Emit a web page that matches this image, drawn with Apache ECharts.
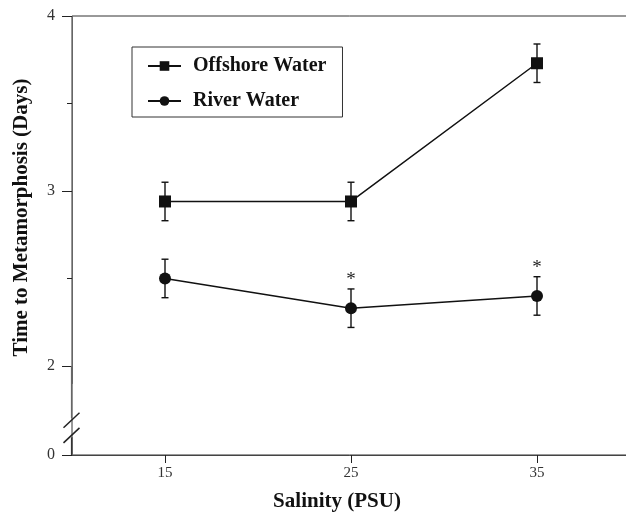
<!DOCTYPE html>
<html>
<head>
<meta charset="utf-8">
<script src="https://cdn.jsdelivr.net/npm/echarts@6/dist/echarts.min.js"></script>
<style>html,body{margin:0;padding:0;background:#fff}#c{width:626px;height:517px}</style>
</head>
<body>
<div id="c"></div>
<script>
var salinity = [15, 25, 35];
var offshoreMean = [2.94, 2.94, 3.73];
var offshoreErr = [0.11, 0.11, 0.11];
var riverMean = [2.50, 2.33, 2.40];
var riverErr = [0.11, 0.11, 0.11];
var riverSig = ['', '*', '*'];
var yTickLabels = [0, 2, 3, 4];
var yMinorTicks = [2.5, 3.5];
var xTickLabels = [15, 25, 35];

var FONT = 'Liberation Serif';
var chart = echarts.init(document.getElementById('c'), null, {renderer: 'canvas'});

function pairs(xs, ys) { return xs.map(function (x, i) { return [x, ys[i]]; }); }
function errData(xs, m, e, sig) {
  return xs.map(function (x, i) { return [x, m[i] - e[i], m[i] + e[i], sig ? sig[i] : '']; });
}
function errRender(params, api) {
  var x = api.value(0), lo = api.value(1), hi = api.value(2);
  var sig = api.value(3);
  var pLo = api.coord([x, lo]), pHi = api.coord([x, hi]);
  var w = 3.5;
  var st = {stroke: '#111', lineWidth: 1.4};
  var children = [
    {type: 'line', shape: {x1: pLo[0], y1: pLo[1], x2: pHi[0], y2: pHi[1]}, style: st},
    {type: 'line', shape: {x1: pLo[0] - w, y1: pLo[1], x2: pLo[0] + w, y2: pLo[1]}, style: st},
    {type: 'line', shape: {x1: pHi[0] - w, y1: pHi[1], x2: pHi[0] + w, y2: pHi[1]}, style: st}
  ];
  if (sig && sig !== '-') {
    children.push({type: 'text', x: pHi[0], y: pHi[1] + 1,
      style: {text: sig, fill: '#222', font: '19px "' + FONT + '"', align: 'center', verticalAlign: 'bottom'}});
  }
  return {type: 'group', children: children};
}

var yBreaks = [{start: 0.1, end: 1.9, gap: 0.309}];

var option = {
  animation: false,
  backgroundColor: '#fff',
  grid: {left: 72, top: 16, width: 558, bottom: 62, outerBoundsMode: 'none', containLabel: false,
    show: true, borderColor: '#333', borderWidth: 1, backgroundColor: 'transparent'},
  legend: {
    orient: 'vertical', left: 132, top: 47,
    padding: [9, 16, 6, 15],
    itemGap: 15, itemWidth: 33, itemHeight: 12,
    borderColor: '#333', borderWidth: 1,
    textStyle: {fontFamily: FONT, fontWeight: 'bold', fontSize: 20, color: '#111', padding: [0, 0, 0, 7]},
    data: ['Offshore Water', 'River Water']
  },
  xAxis: {
    type: 'value', min: 10, max: 40,
    name: 'Salinity (PSU)', nameLocation: 'middle', nameGap: 36,
    nameTextStyle: {fontFamily: FONT, fontWeight: 'bold', fontSize: 21, color: '#111', padding: [0, 28, 0, 0]},
    axisLine: {lineStyle: {color: '#444', width: 1}},
    axisTick: {show: true, inside: false, length: 8, lineStyle: {color: '#222'}, customValues: xTickLabels},
    axisLabel: {customValues: xTickLabels, margin: 11, fontFamily: FONT, fontSize: 15, color: '#333'},
    splitLine: {show: false}
  },
  yAxis: [{
    type: 'value', min: 0, max: 4,
    breaks: yBreaks,
    breakArea: {show: false},
    name: 'Time to Metamorphosis (Days)', nameLocation: 'middle', nameGap: 40,
    nameTextStyle: {fontFamily: FONT, fontWeight: 'bold', fontSize: 21, color: '#111', padding: [0, 0, 0, 36]},
    axisLine: {show: true, lineStyle: {color: '#666', width: 1}},
    axisTick: {show: true, length: 10, lineStyle: {color: '#222'}, customValues: yTickLabels},
    axisLabel: {customValues: yTickLabels, margin: 17, fontFamily: FONT, fontSize: 16, color: '#333'},
    splitLine: {show: false}
  }, {
    type: 'value', min: 0, max: 4,
    breaks: yBreaks,
    breakArea: {show: false},
    position: 'left',
    axisLine: {show: false},
    axisTick: {show: true, length: 5, lineStyle: {color: '#222'}, customValues: yMinorTicks},
    axisLabel: {show: false},
    splitLine: {show: false}
  }],
  series: [
    {name: 'Offshore Water', type: 'line', data: pairs(salinity, offshoreMean), symbol: 'rect', symbolSize: 12,
      lineStyle: {color: '#111', width: 1.5}, itemStyle: {color: '#111'}, z: 3},
    {name: 'River Water', type: 'line', data: pairs(salinity, riverMean), symbol: 'circle', symbolSize: 12,
      lineStyle: {color: '#111', width: 1.5}, itemStyle: {color: '#111'}, z: 3},
    {type: 'custom', data: errData(salinity, offshoreMean, offshoreErr), renderItem: errRender, z: 2, silent: true},
    {type: 'custom', data: errData(salinity, riverMean, riverErr, riverSig), renderItem: errRender, z: 2, silent: true}
  ]
};
chart.setOption(option);

// axis-break marks on the y axis, placed from the axis scale
function drawBreakMarks() {
  var x0 = Math.round(chart.convertToPixel({xAxisIndex: 0}, 10)) - 0.5;
  var y0 = chart.convertToPixel({yAxisIndex: 0}, 0);
  var y2 = chart.convertToPixel({yAxisIndex: 0}, 2);
  var c1 = y0 + (y2 - y0) * 0.39, c2 = y0 + (y2 - y0) * 0.22;
  var hw = 8, hh = 7.5;
  var st = {stroke: '#222', lineWidth: 1.5};
  chart.setOption({graphic: [
    {type: 'line', shape: {x1: x0, y1: y2, x2: x0, y2: c1 - 2}, style: {stroke: '#666', lineWidth: 1.2}, z: 10},
    {type: 'line', shape: {x1: x0, y1: c2 + 2, x2: x0, y2: y0}, style: {stroke: '#333', lineWidth: 1.2}, z: 10},
    {type: 'line', shape: {x1: x0 - hw, y1: c1 + hh, x2: x0 + hw, y2: c1 - hh}, style: st, z: 11},
    {type: 'line', shape: {x1: x0 - hw, y1: c2 + hh, x2: x0 + hw, y2: c2 - hh}, style: st, z: 11}
  ]});
}
drawBreakMarks();
</script>
</body>
</html>
